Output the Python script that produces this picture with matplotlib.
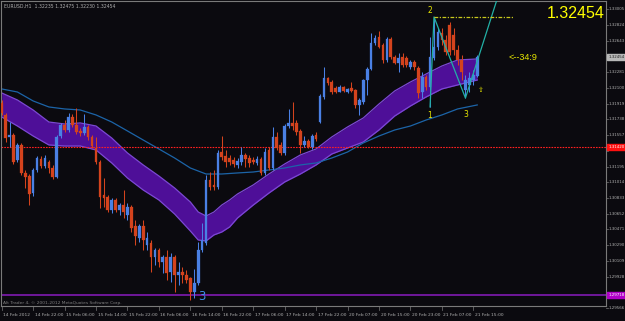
import matplotlib
matplotlib.use("Agg")
import matplotlib.pyplot as plt
import matplotlib.transforms as mtransforms

# ---------------- data (EURUSD H1) ----------------
opens = [1.31925,1.31788,1.31535,1.31558,1.31270,1.31443,1.31121,1.31086,1.30890,1.31155,
         1.31282,1.31201,1.31247,1.31178,1.31075,1.31546,1.31673,1.31615,1.31765,1.31673,
         1.31604,1.31581,1.31650,1.31535,1.31408,1.31247,1.30868,1.30845,1.30695,1.30810,
         1.30695,1.30752,1.30637,1.30729,1.30511,1.30373,1.30511,1.30293,1.30315,1.30155,
         1.30235,1.30097,1.30155,1.29982,1.30155,1.29948,1.29982,1.29948,1.29913,1.29752,
         1.29856,1.30235,1.30315,1.31040,1.30982,1.30959,1.31362,1.31316,1.31293,1.31270,
         1.31213,1.31247,1.31328,1.31293,1.31270,1.31236,1.31282,1.31121,1.31385,1.31178,
         1.31535,1.31443,1.31351,1.31661,1.31696,1.31696,1.31604,1.31443,1.31489,1.31420,
         1.31558,1.31707,1.31995,1.32213,1.32167,1.32098,1.32052,1.32110,1.32052,1.32098,
         1.32075,1.31903,1.31937,1.32190,1.32317,1.32616,1.32685,1.32593,1.32420,1.32662,
         1.32455,1.32386,1.32455,1.32443,1.32340,1.32397,1.32328,1.32052,1.32225,1.32110,
         1.32443,1.32570,1.32731,1.32650,1.32823,1.32708,1.32535,1.32420,1.32075,1.32133,
         1.32190,1.32235]
highs = [1.31960,1.31811,1.31707,1.31581,1.31466,1.31466,1.31155,1.31109,1.31178,1.31316,
         1.31316,1.31328,1.31270,1.31213,1.31558,1.31696,1.31730,1.31811,1.31799,1.31868,
         1.31638,1.31799,1.31673,1.31558,1.31535,1.31270,1.31063,1.30868,1.30833,1.30833,
         1.30775,1.30925,1.30775,1.30752,1.30580,1.30534,1.30580,1.30442,1.30350,1.30258,
         1.30258,1.30178,1.30235,1.30200,1.30178,1.30097,1.30040,1.30005,1.29925,1.30017,
         1.30327,1.30545,1.31098,1.31132,1.31155,1.31385,1.31546,1.31385,1.31328,1.31305,
         1.31293,1.31420,1.31351,1.31328,1.31305,1.31316,1.31305,1.31408,1.31420,1.31650,
         1.31592,1.31477,1.31684,1.31857,1.31937,1.31730,1.31627,1.31546,1.31512,1.31569,
         1.31592,1.32029,1.32340,1.32225,1.32190,1.32121,1.32133,1.32121,1.32098,1.32167,
         1.32087,1.31983,1.32202,1.32340,1.32731,1.32708,1.32754,1.32616,1.32685,1.32685,
         1.32478,1.32500,1.32500,1.32466,1.32420,1.32420,1.32351,1.32282,1.32248,1.32685,
         1.32915,1.32788,1.32788,1.32708,1.32857,1.32788,1.32593,1.32478,1.32248,1.32282,
         1.32305,1.32475]
lows = [1.31788,1.31477,1.31420,1.31224,1.31247,1.31098,1.30948,1.30752,1.30856,1.31132,
        1.31178,1.31178,1.31121,1.31052,1.31063,1.31523,1.31592,1.31592,1.31650,1.31569,
        1.31546,1.31558,1.31500,1.31408,1.31224,1.30718,1.30729,1.30672,1.30660,1.30672,
        1.30637,1.30603,1.30580,1.30442,1.30293,1.30327,1.30235,1.30235,1.29982,1.30063,
        1.30040,1.29970,1.29890,1.29867,1.29752,1.29833,1.29856,1.29856,1.29660,1.29683,
        1.29833,1.30212,1.30293,1.30925,1.30925,1.30936,1.31270,1.31190,1.31213,1.31190,
        1.31178,1.31213,1.31190,1.31190,1.31224,1.31213,1.31098,1.31098,1.31155,1.31155,
        1.31385,1.31328,1.31328,1.31638,1.31615,1.31558,1.31351,1.31420,1.31408,1.31397,
        1.31489,1.31696,1.31972,1.32133,1.32029,1.32041,1.32052,1.32052,1.32041,1.32052,
        1.31868,1.31788,1.31914,1.32018,1.32305,1.32593,1.32558,1.32386,1.32397,1.32432,
        1.32374,1.32282,1.32340,1.32340,1.32317,1.32305,1.31983,1.31983,1.32075,1.31880,
        1.32420,1.32535,1.32593,1.32478,1.32478,1.32478,1.32363,1.32190,1.31983,1.32052,
        1.32133,1.32230]
closes = [1.31811,1.31523,1.31558,1.31247,1.31443,1.31121,1.31075,1.30879,1.31155,1.31293,
          1.31201,1.31293,1.31178,1.31075,1.31535,1.31673,1.31615,1.31765,1.31673,1.31592,
          1.31581,1.31650,1.31535,1.31431,1.31247,1.30845,1.30833,1.30695,1.30810,1.30695,
          1.30752,1.30672,1.30729,1.30488,1.30396,1.30511,1.30350,1.30373,1.30155,1.30235,
          1.30097,1.30155,1.29970,1.30155,1.29948,1.29982,1.29948,1.29890,1.29752,1.29856,
          1.30235,1.30350,1.31040,1.30959,1.30959,1.31351,1.31305,1.31247,1.31247,1.31224,
          1.31259,1.31328,1.31282,1.31236,1.31247,1.31282,1.31121,1.31362,1.31178,1.31535,
          1.31408,1.31351,1.31661,1.31696,1.31661,1.31592,1.31443,1.31489,1.31420,1.31546,
          1.31512,1.32006,1.32213,1.32156,1.32052,1.32052,1.32110,1.32064,1.32087,1.32064,
          1.31903,1.31960,1.32190,1.32317,1.32616,1.32673,1.32570,1.32420,1.32662,1.32455,
          1.32386,1.32443,1.32363,1.32363,1.32397,1.32340,1.32041,1.32225,1.32110,1.32455,
          1.32570,1.32742,1.32650,1.32512,1.32512,1.32535,1.32420,1.32282,1.32190,1.32213,
          1.32248,1.32454]

# moving average (blue line) sampled at bar indices
ma_idx = [0,4,8,12,16,20,24,28,32,36,40,44,48,52,56,60,64,68,72,76,80,84,88,92,96,100,104,108,112,116,121]
ma_val = [1.32087,1.32052,1.31949,1.31880,1.31857,1.31845,1.31788,1.31707,1.31604,1.31500,
          1.31397,1.31293,1.31178,1.31109,1.31109,1.31121,1.31132,1.31155,1.31178,1.31213,
          1.31236,1.31293,1.31362,1.31466,1.31546,1.31615,1.31661,1.31730,1.31788,1.31857,1.31903]

# purple channel, sampled at bar indices
band_idx = [0,4,8,12,16,20,24,28,32,36,40,44,48,50,52,54,56,58,60,64,68,72,76,80,84,88,92,96,100,104,108,112,116,121]
band_up = [1.32041,1.31960,1.31845,1.31707,1.31684,1.31696,1.31661,1.31523,1.31351,1.31213,
           1.31086,1.30948,1.30787,1.30672,1.30626,1.30672,1.30752,1.30810,1.30879,1.30983,
           1.31109,1.31224,1.31328,1.31397,1.31535,1.31650,1.31753,1.31914,1.32064,1.32167,
           1.32259,1.32351,1.32420,1.32432]
band_lo = [1.31765,1.31661,1.31546,1.31443,1.31431,1.31431,1.31385,1.31236,1.31063,1.30925,
           1.30810,1.30649,1.30454,1.30350,1.30339,1.30408,1.30442,1.30500,1.30603,1.30752,
           1.30890,1.31017,1.31109,1.31213,1.31339,1.31408,1.31477,1.31615,1.31776,1.31891,
           1.31995,1.32087,1.32133,1.32190]

# zigzag (points 1, 2, 3 and projection)
zz_idx = [109, 110, 118, 126.7]
zz_val = [1.31880, 1.32915, 1.31983, 1.33210]
zz_labels = ["1", "2", "3"]

level_top = 1.32915          # yellow dashed level from point 2
red_level = 1.31420
magenta_level = 1.29718
last_price = 1.32454

ytick_vals = [1.33005,1.32824,1.32643,1.32462,1.32281,1.32100,1.31919,1.31738,1.31557,1.31376,
              1.31195,1.31014,1.30833,1.30652,1.30471,1.30290,1.30109,1.29928,1.29747,1.29566]
xtick_idx = list(range(0, 121, 8))
xtick_labels = ["14 Feb 2012","14 Feb 22:00","15 Feb 06:00","15 Feb 14:00","15 Feb 22:00",
                "16 Feb 06:00","16 Feb 14:00","16 Feb 22:00","17 Feb 06:00","17 Feb 14:00",
                "17 Feb 22:00","20 Feb 07:00","20 Feb 15:00","20 Feb 23:00","21 Feb 07:00",
                "21 Feb 15:00"]

# ---------------- styling ----------------
BG = "#0b0a0f"
BULL = "#4a80e4"
BEAR = "#d4431d"
GRID_TXT = "#b0b0b0"
FRAME = "#7a7a7a"

W, H = 625, 321
fig = plt.figure(figsize=(W/100, H/100), dpi=100)
fig.patch.set_facecolor(BG)
ax = fig.add_axes([1/W, (H-306)/H, 605/W, 305/H])
ax.set_facecolor(BG)

px_per_bar = 3.93
x0 = 1.7
ax.set_xlim((1 - x0)/px_per_bar, (606 - x0)/px_per_bar)
ax.set_ylim(1.3311 - 0.000115*306, 1.3311 - 0.000115*1)
ax.set_xticks([]); ax.set_yticks([])
for s in ax.spines.values():
    s.set_color(FRAME); s.set_linewidth(0.8)

# channel
ax.fill_between(band_idx, band_lo, band_up, color="#4e0f98", lw=0, zorder=1)
ax.plot(band_idx, band_up, color="#7c48d4", lw=0.9, zorder=1.2)
ax.plot(band_idx, band_lo, color="#7c48d4", lw=0.9, zorder=1.2)

# MA line
ax.plot(ma_idx, ma_val, color="#1c64a8", lw=0.9, zorder=1.5)

# horizontal levels
ax.axhline(red_level, color="#ff2020", lw=0.8, ls=(0, (1.5, 1.0)), zorder=1.6)
ax.axhline(magenta_level, color="#8a1cc0", lw=1.1, zorder=1.6)

# candles
n = len(opens)
for i in range(n):
    o, h, l, c = opens[i], highs[i], lows[i], closes[i]
    col = BULL if c >= o else BEAR
    ax.vlines(i, l, h, color=col, lw=0.75, zorder=3)
    bottom = min(o, c)
    height = max(abs(c - o), 0.00006)
    ax.bar(i, height, bottom=bottom, width=0.68, color=col, edgecolor=col, lw=0.2, zorder=3.1)

# zigzag
ax.plot(zz_idx, zz_val, color="#22b0a6", lw=0.9, zorder=4)
ax.plot([zz_idx[1], 130.1], [level_top, level_top], color="#c8c81e", lw=0.9,
        ls=(0, (3, 1.2, 1, 1.2)), zorder=4)
ypx = 0.000115
ax.text(zz_idx[0], zz_val[0] - 9*ypx, zz_labels[0], color="#e8e800", fontsize=5.5,
        ha="center", va="center", zorder=5)
ax.text(zz_idx[1] - 1, zz_val[1] + 6*ypx, zz_labels[1], color="#e8e800", fontsize=5.5,
        ha="center", va="center", zorder=5)
ax.text(zz_idx[2], zz_val[2] - 17*ypx, zz_labels[2], color="#e8e800", fontsize=5.5,
        ha="center", va="center", zorder=5)
ax.text(122.0, 1.3311 - 90*ypx, "\u21e7", color="#e8e800", fontsize=5,
        ha="center", va="center", zorder=5)
ax.text(51.0, 1.3311 - 296*ypx, "3", color="#3e8ee8", fontsize=8.5,
        ha="center", va="center", zorder=5)
ax.text(129.0, 1.3311 - 58*ypx, "<--34:9", color="#e8e800", fontsize=6.5,
        family="Liberation Sans", ha="left", va="center", zorder=5)

# big price text
fig.text(576/W, 1 - 14/H, "1.32454", color="#ffff00", fontsize=11.5,
         family="Liberation Sans", ha="center", va="center")
# header
fig.text(4/W, 1 - 6/H, "EURUSD,H1  1.32235 1.32475 1.32230 1.32454", color=GRID_TXT,
         fontsize=3.3, ha="left", va="center")
fig.text(3/W, 1 - 303/H, "Alt Trader 4, \u00a9 2001-2012 MetaQuotes Software Corp.",
         color="#808080", fontsize=3.2, ha="left", va="center")

# price axis labels (those hidden behind the price boxes are skipped)
ytr = mtransforms.blended_transform_factory(ax.transAxes, ax.transData)
boxed = [last_price, red_level, magenta_level]
for v in ytick_vals:
    ax.plot([1.0, 1.004], [v, v], transform=ytr, color=FRAME, lw=0.5, clip_on=False)
    if min(abs(v - b) for b in boxed) < 7*ypx:
        continue
    ax.text(1.005, v, f"{v:.5f}", transform=ytr, color=GRID_TXT, fontsize=2.9,
            ha="left", va="center", clip_on=False)

def price_box(val, face, txtcol):
    ax.text(1.004, val, f"{val:.5f}", transform=ytr, color=txtcol, fontsize=2.9,
            ha="left", va="center", clip_on=False, zorder=10,
            bbox=dict(boxstyle="square,pad=0.25", fc=face, ec=face))

price_box(last_price, "#b8b8b8", "#202020")
price_box(red_level, "#ff1010", "#ffffff")
price_box(magenta_level, "#b000c8", "#ffffff")

# time axis labels
xtr = mtransforms.blended_transform_factory(ax.transData, ax.transAxes)
for idx, lab in zip(xtick_idx, xtick_labels):
    ax.plot([idx, idx], [0, -0.012], transform=xtr, color=FRAME, lw=0.5, clip_on=False)
    ax.text(idx + 0.4, -0.03, lab, transform=xtr, color=GRID_TXT, fontsize=3.2,
            ha="left", va="center", clip_on=False)

fig.savefig("out.png", dpi=100, facecolor=BG)
